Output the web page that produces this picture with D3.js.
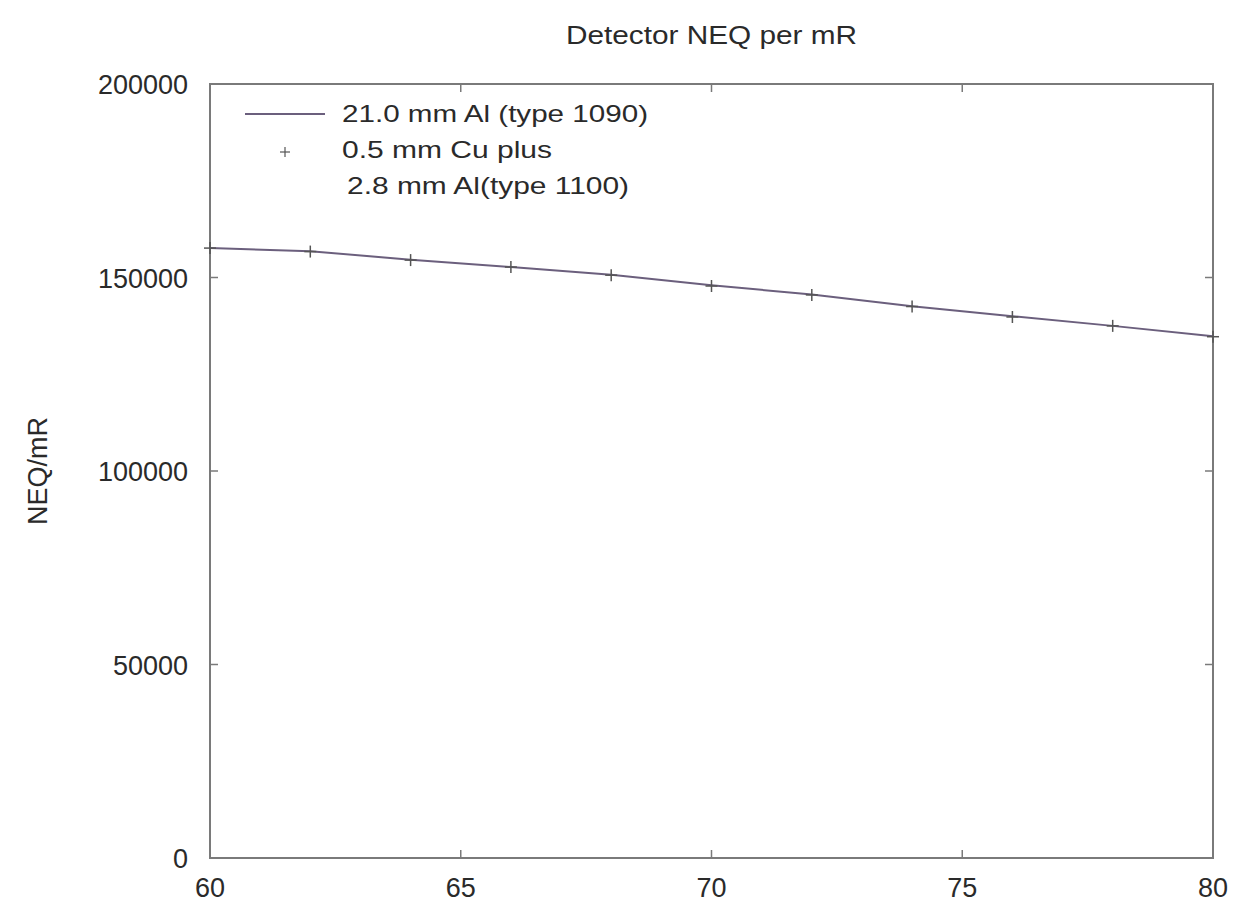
<!DOCTYPE html>
<html>
<head>
<meta charset="utf-8">
<script src="https://cdn.jsdelivr.net/npm/d3@7"></script>
<style>
  body { margin: 0; background: #fff; }
  text { font-family: "Liberation Sans", Arial, sans-serif; fill: #2a2a2a; }
</style>
</head>
<body>
<div class="chart"></div>
<script>
// kVp values and NEQ/mR readings
const kvp = [60, 62, 64, 66, 68, 70, 72, 74, 76, 78, 80];
const neqAl = [157600, 156800, 154600, 152700, 150700, 148000, 145600, 142600, 140000, 137500, 134800];
const neqCu = [157600, 156700, 154500, 152700, 150600, 147800, 145500, 142500, 139800, 137500, 134700];
const xTicks = [60, 65, 70, 75, 80];
const yTicks = [0, 50000, 100000, 150000, 200000];
const legendLabels = ["21.0 mm Al (type 1090)", "0.5 mm Cu plus", " 2.8 mm Al(type 1100)"];

const width = 1243, height = 918;
const margin = { top: 84, right: 30, bottom: 60, left: 210 };
const axisColor = "#7a7a7a";
const lineColor = "#6b5f7d";

const svg = d3.select(".chart").append("svg")
  .attr("width", width)
  .attr("height", height);

const x = d3.scaleLinear().domain([60, 80]).range([margin.left, width - margin.right]);
const y = d3.scaleLinear().domain([0, 200000]).range([height - margin.bottom, margin.top]);

// frame
svg.append("rect")
  .attr("x", x(60)).attr("y", y(200000))
  .attr("width", x(80) - x(60)).attr("height", y(0) - y(200000))
  .attr("fill", "none").attr("stroke", axisColor).attr("stroke-width", 2);

// inward ticks on all four sides
const tickLen = 8;
const innerX = xTicks.slice(1, -1);
const innerY = yTicks.slice(1, -1);
const tickG = svg.append("g").attr("stroke", axisColor).attr("stroke-width", 1.5);
tickG.selectAll(".tb").data(innerX).join("line")
  .attr("x1", (d) => x(d)).attr("x2", (d) => x(d))
  .attr("y1", y(0)).attr("y2", y(0) - tickLen);
tickG.selectAll(".tt").data(innerX).join("line")
  .attr("x1", (d) => x(d)).attr("x2", (d) => x(d))
  .attr("y1", y(200000)).attr("y2", y(200000) + tickLen);
tickG.selectAll(".tl").data(innerY).join("line")
  .attr("x1", x(60)).attr("x2", x(60) + tickLen)
  .attr("y1", (d) => y(d)).attr("y2", (d) => y(d));
tickG.selectAll(".tr").data(innerY).join("line")
  .attr("x1", x(80)).attr("x2", x(80) - tickLen)
  .attr("y1", (d) => y(d)).attr("y2", (d) => y(d));

// tick labels
svg.append("g").selectAll("text").data(xTicks).join("text")
  .attr("x", (d) => x(d)).attr("y", y(0) + 39)
  .attr("text-anchor", "middle").attr("font-size", 27)
  .text((d) => d);
svg.append("g").selectAll("text").data(yTicks).join("text")
  .attr("x", x(60) - 22).attr("y", (d) => y(d) + 10)
  .attr("text-anchor", "end").attr("font-size", 27)
  .text((d) => d);

// titles
svg.append("text")
  .attr("x", 566).attr("y", 44)
  .attr("font-size", 25)
  .attr("textLength", 291).attr("lengthAdjust", "spacingAndGlyphs")
  .text("Detector NEQ per mR");
svg.append("text")
  .attr("transform", `translate(47,${(y(0) + y(200000)) / 2}) rotate(-90)`)
  .attr("text-anchor", "middle").attr("font-size", 27)
  .text("NEQ/mR");

// series
const line = d3.line().x((d, i) => x(kvp[i])).y((d) => y(d));
svg.append("path").datum(neqAl)
  .attr("d", line)
  .attr("fill", "none").attr("stroke", lineColor).attr("stroke-width", 2);

const cross = (g, cx, cy, s) => {
  g.append("line").attr("x1", cx - s).attr("x2", cx + s).attr("y1", cy).attr("y2", cy);
  g.append("line").attr("x1", cx).attr("x2", cx).attr("y1", cy - s).attr("y2", cy + s);
};
const markG = svg.append("g").attr("stroke", "#555").attr("stroke-width", 1.5);
neqCu.forEach((v, i) => cross(markG, x(kvp[i]), y(v), 6));

// legend
const lg = svg.append("g");
lg.append("line")
  .attr("x1", 245).attr("x2", 325).attr("y1", 114).attr("y2", 114)
  .attr("stroke", lineColor).attr("stroke-width", 2);
const lgMark = lg.append("g").attr("stroke", "#555").attr("stroke-width", 1.2);
cross(lgMark, 285, 152, 5);
const legendWidths = [306, 210, 282];
lg.selectAll("text").data(legendLabels).join("text")
  .attr("x", (d, i) => (i === 2 ? 347 : 342)).attr("y", (d, i) => 122 + i * 36)
  .attr("font-size", 24)
  .attr("textLength", (d, i) => legendWidths[i])
  .attr("lengthAdjust", "spacingAndGlyphs")
  .text((d) => d.trim());
</script>
</body>
</html>
